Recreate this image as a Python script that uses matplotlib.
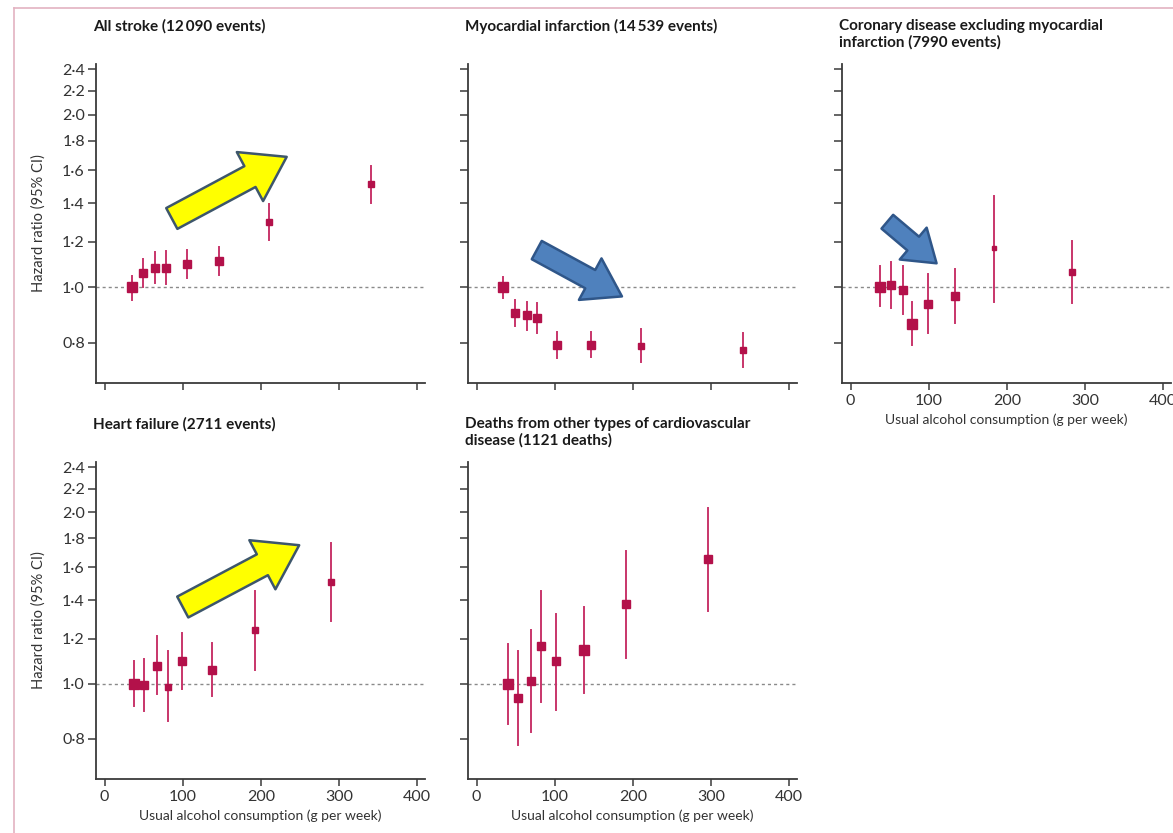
#!/usr/bin/env python3

import numpy as np
import matplotlib

matplotlib.use("Agg")
import matplotlib.pyplot as plt
from matplotlib.lines import Line2D

plt.rcParams["font.family"] = ["Lato", "DejaVu Sans"]

# usual alcohol consumption (g/week), hazard ratio and 95% CI per panel
stroke_x = [35, 49, 64, 78, 105, 147, 210, 341]
stroke_hr = [1.00, 1.057, 1.081, 1.081, 1.096, 1.111, 1.301, 1.512]
stroke_lo = [0.951, 1.00, 1.018, 1.013, 1.036, 1.048, 1.21, 1.404]
stroke_hi = [1.046, 1.121, 1.149, 1.157, 1.16, 1.173, 1.398, 1.628]

mi_x = [34, 49, 64, 77, 103, 147, 210, 341]
mi_hr = [1.00, 0.901, 0.892, 0.882, 0.792, 0.793, 0.79, 0.776]
mi_lo = [0.955, 0.856, 0.843, 0.83, 0.751, 0.755, 0.74, 0.726]
mi_hi = [1.04, 0.948, 0.941, 0.937, 0.833, 0.833, 0.845, 0.83]

chd_x = [38, 52, 67, 79, 99, 134, 184, 283]
chd_hr = [1.00, 1.01, 0.99, 0.862, 0.935, 0.964, 1.168, 1.063]
chd_lo = [0.925, 0.92, 0.898, 0.792, 0.831, 0.865, 0.941, 0.937]
chd_hi = [1.087, 1.107, 1.086, 0.941, 1.052, 1.076, 1.44, 1.205]

hf_x = [37, 51, 67, 81, 99, 137, 192, 290]
hf_hr = [1.00, 0.993, 1.076, 0.987, 1.097, 1.058, 1.24, 1.51]
hf_lo = [0.915, 0.897, 0.957, 0.859, 0.98, 0.953, 1.058, 1.29]
hf_hi = [1.097, 1.104, 1.213, 1.139, 1.226, 1.178, 1.456, 1.763]

oth_x = [40, 53, 69, 82, 102, 138, 191, 296]
oth_hr = [1.00, 0.945, 1.009, 1.164, 1.094, 1.144, 1.38, 1.654]
oth_lo = [0.851, 0.78, 0.823, 0.929, 0.898, 0.961, 1.11, 1.34]
oth_hi = [1.175, 1.141, 1.24, 1.456, 1.326, 1.362, 1.711, 2.036]

titles = [
    "All stroke (12\u2009090 events)",
    "Myocardial infarction (14\u2009539 events)",
    "Coronary disease excluding myocardial\ninfarction (7990 events)",
    "Heart failure (2711 events)",
    "Deaths from other types of cardiovascular\ndisease (1121 deaths)",
]
y_ticks = [0.8, 1.0, 1.2, 1.4, 1.6, 1.8, 2.0, 2.2, 2.4]
y_ticklabels = [f"{v:.1f}".replace(".", "\u00b7") for v in y_ticks]
x_ticks = [0, 100, 200, 300, 400]

# hint arrows: colour, (tail x, tail y) -> (tip x, tip y) in data units
arrows = {
    0: ("yellow", (86, 1.317), (233, 1.687)),
    1: ("blue", (77, 1.16), (186, 0.963)),
    2: ("blue_small", (47, 1.30), (110, 1.10)),
    3: ("yellow", (100, 1.363), (249, 1.75)),
}
arrow_looks = {
    "yellow": ("#ffff00", "#3d566b", "simple,head_length=30,head_width=40,tail_width=17"),
    "blue": ("#4f81bd", "#2f5689", "simple,head_length=26,head_width=34,tail_width=15"),
    "blue_small": ("#4f81bd", "#2f5689", "simple,head_length=22,head_width=30,tail_width=13"),
}

MARK = "#b3114a"
ERR = "#c8356a"
W, H = 1173, 833

panels = [
    (stroke_x, stroke_hr, stroke_lo, stroke_hi),
    (mi_x, mi_hr, mi_lo, mi_hi),
    (chd_x, chd_hr, chd_lo, chd_hi),
    (hf_x, hf_hr, hf_lo, hf_hi),
    (oth_x, oth_hr, oth_lo, oth_hi),
]
# axes boxes in pixels: left, top, width, height
boxes = [
    (96, 64, 329, 319),
    (468, 64, 329, 319),
    (842, 64, 329, 319),
    (96, 462, 329, 317),
    (468, 462, 329, 317),
]

fig = plt.figure(figsize=(W / 100, H / 100), dpi=100)
fig.add_artist(Line2D([14 / W, 14 / W], [0, 1 - 8 / H], color="#e3b3c1", lw=1.2))
fig.add_artist(Line2D([14 / W, 1], [1 - 8 / H, 1 - 8 / H], color="#e3b3c1", lw=1.2))

for i, ((xs, hr, lo, hi), (l, t, w, h)) in enumerate(zip(panels, boxes)):
    ax = fig.add_axes([l / W, 1 - (t + h) / H, w / W, h / H])
    ax.set_yscale("log")
    ax.set_xlim(-11, 410)
    ax.set_ylim(0.68, 2.45)
    ax.axhline(1.0, color="#8a8a8a", lw=1.0, ls=(0, (2.2, 2.2)), zorder=1)

    widths = np.log(np.array(hi) / np.array(lo))
    sizes = 7.0 * (widths.min() / widths) ** 0.8
    for x, y, a, b, s in zip(xs, hr, lo, hi, sizes):
        ax.plot([x, x], [a, b], color=ERR, lw=1.4, zorder=2)
        ax.plot(x, y, marker="s", ms=max(s, 3.3), color=MARK, mec=MARK, zorder=3)

    for side in ("top", "right"):
        ax.spines[side].set_visible(False)
    for side in ("left", "bottom"):
        ax.spines[side].set_color("#3a3a3a")
        ax.spines[side].set_linewidth(1.3)

    ax.set_yticks(y_ticks)
    ax.yaxis.set_minor_locator(matplotlib.ticker.NullLocator())
    ax.set_xticks(x_ticks)
    ax.tick_params(axis="both", direction="out", color="#3a3a3a", width=1.1,
                   labelsize=11.5, labelcolor="#333333")
    ax.tick_params(axis="y", length=6, pad=2)
    ax.tick_params(axis="x", length=5, pad=3)

    if i in (0, 3):
        ax.set_yticklabels(y_ticklabels)
        ax.set_ylabel("Hazard ratio (95% CI)", fontsize=10.5, color="#333333", labelpad=12)
    else:
        ax.set_yticklabels([])
    if i in (2, 3, 4):
        ax.set_xlabel("Usual alcohol consumption (g per week)", fontsize=10,
                      color="#333333", labelpad=4)
    else:
        ax.set_xticklabels([])

    ax.text(-3 / w, 1 + 45 / h, titles[i], transform=ax.transAxes, ha="left", va="top",
            fontsize=11, fontweight="bold", color="#1a1a1a", linespacing=1.2)

    if i in arrows:
        kind, tail, tip = arrows[i]
        fc, ec, style = arrow_looks[kind]
        ax.annotate("", xy=tip, xytext=tail,
                    arrowprops=dict(arrowstyle=style, fc=fc, ec=ec, lw=1.8,
                                    mutation_scale=1, shrinkA=0, shrinkB=0),
                    zorder=4)

fig.savefig("out.png", dpi=100)
